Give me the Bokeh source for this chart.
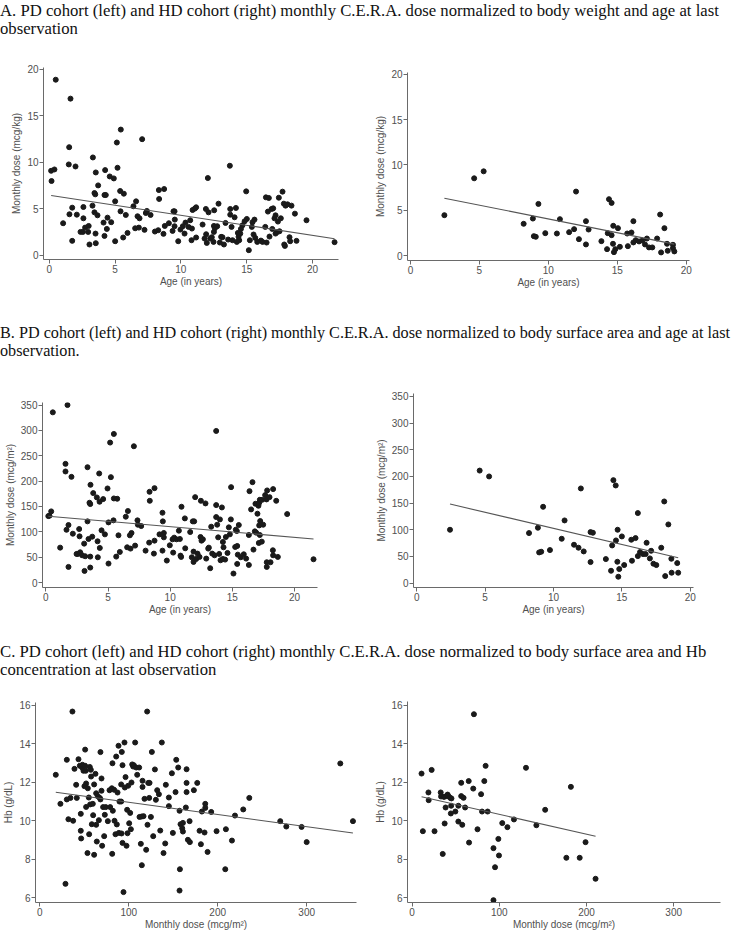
from bokeh.plotting import figure
from bokeh.models import Div, Range1d, FixedTicker, ColumnDataSource
from bokeh.layouts import column, row
from bokeh.embed import file_html
from bokeh.resources import INLINE

# ---------------- data ----------------
# A: dose normalized to body weight (mcg/kg) vs age
pd_age_a = [0.5, 0.18, 0.15, 0.4, 1.06, 1.62, 1.52, 1.49, 1.54, 1.75,
            1.75, 2.0, 2.1, 2.38, 2.56, 2.6, 2.6, 2.73, 2.96, 3.0,
            3.06, 3.32, 3.29, 3.44, 3.5, 3.54, 3.52, 3.54, 3.67, 3.72,
            3.44, 4.2, 4.3, 4.25, 4.13, 4.2, 4.38, 4.43, 4.6, 4.71,
            4.91, 5.01, 5.01, 5.14, 5.19, 5.44, 5.39, 5.42, 5.67, 5.62,
            5.82, 5.95, 6.4, 6.6, 6.53, 6.71, 6.86, 6.81, 7.06, 7.24,
            7.34, 7.42, 7.7, 8.03, 8.28, 8.35, 8.33, 8.73, 8.68, 8.78,
            9.09, 9.37, 9.44, 9.52, 9.54, 9.52, 9.8, 9.97, 10.15, 10.28,
            10.35, 10.58, 10.71, 10.84, 10.81, 10.89, 11.06, 11.16, 11.16, 11.65,
            11.8, 11.9, 11.92, 11.97, 12.05, 12.1, 12.23, 12.35, 12.48, 12.51,
            12.58, 12.51, 12.76, 12.53, 12.86, 12.96, 13.06, 13.27, 13.16, 13.39,
            13.59, 13.72, 13.75, 13.75, 13.85, 13.92, 14.08, 14.18, 14.25, 14.33,
            14.38, 14.43, 14.51, 14.56, 14.68, 14.84, 14.96, 15.01, 15.16, 15.24,
            15.39, 15.44, 15.52, 15.59, 15.65, 15.8, 16.08, 16.2, 16.41, 16.46,
            16.51, 16.61, 16.68, 16.73, 16.89, 16.94, 17.01, 17.11, 17.19, 17.19,
            17.29, 17.37, 17.44, 17.49, 17.59, 17.72, 17.82, 17.85, 17.9, 17.95,
            18.1, 18.25, 18.3, 18.4, 18.66, 18.78, 19.54, 21.67]
pd_dose_kg = [18.86, 7.99, 9.09, 9.23, 3.46, 16.83, 11.62, 9.77, 4.42, 5.13,
              1.57, 9.55, 4.38, 2.53, 2.53, 3.99, 5.2, 2.99, 2.53, 3.17,
              1.18, 10.52, 5.35, 6.7, 6.56, 8.91, 2.35, 1.32, 4.31, 7.52,
              4.63, 6.49, 6.49, 9.16, 3.53, 2.1, 2.85, 4.06, 8.48, 3.57,
              8.27, 5.81, 1.53, 12.12, 9.41, 13.51, 6.92, 4.74, 6.63, 1.93,
              4.35, 2.42, 5.28, 5.81, 2.92, 4.21, 3.99, 2.99, 12.48, 2.75,
              4.56, 4.78, 4.35, 2.57, 2.71, 6.06, 7.02, 7.13, 2.32, 3.17,
              3.46, 2.64, 4.74, 4.74, 3.85, 3.14, 1.53, 2.78, 3.14, 2.35,
              3.53, 3.07, 3.78, 2.89, 1.64, 4.88, 5.03, 5.17, 1.93, 3.32,
              1.82, 4.99, 2.28, 1.35, 8.31, 4.63, 1.82, 1.96, 1.46, 3.17,
              2.92, 2.53, 3.14, 4.85, 5.56, 1.39, 2.0, 1.18, 1.96, 3.49,
              1.71, 9.63, 4.99, 4.38, 3.07, 1.64, 4.1, 5.1, 1.46, 2.42,
              2.0, 1.64, 2.35, 2.85, 3.24, 3.67, 6.88, 3.92, 0.57, 1.64,
              3.07, 3.57, 2.25, 3.85, 1.89, 1.46, 1.6, 1.46, 3.07, 6.24,
              1.39, 4.71, 6.17, 2.03, 4.99, 2.85, 5.06, 3.99, 4.31, 2.35,
              2.5, 3.64, 6.2, 2.6, 3.99, 6.85, 5.56, 1.18, 1.03, 5.35,
              5.49, 1.96, 1.53, 5.35, 4.49, 1.57, 3.78, 1.43]
hd_age_a = [2.46, 4.62, 5.31, 8.21, 8.88, 8.95, 9.09, 9.28, 9.78, 10.62,
            10.84, 11.51, 11.87, 12.01, 12.22, 12.73, 12.73, 12.92, 13.85, 14.26,
            14.31, 14.4, 14.59, 14.59, 14.71, 14.69, 14.76, 14.86, 15.05, 15.19,
            15.72, 15.77, 16.03, 16.17, 16.17, 16.34, 16.58, 16.82, 17.01, 17.15,
            17.3, 17.54, 17.89, 18.11, 18.18, 18.42, 18.61, 18.66, 19.04, 19.04,
            19.14]
hd_dose_kg = [4.47, 8.53, 9.3, 3.52, 4.1, 2.16, 2.09, 5.71, 2.49, 2.45,
              4.03, 2.6, 2.93, 7.07, 1.83, 3.81, 1.25, 2.89, 1.61, 0.73,
              2.49, 6.23, 5.82, 2.27, 3.3, 1.32, 0.4, 0.73, 3.04, 0.99,
              2.45, 1.06, 2.56, 3.81, 1.47, 1.72, 1.58, 1.68, 1.25, 1.9,
              0.92, 0.92, 1.9, 4.54, 0.37, 3.04, 1.32, 0.55, 1.21, 0.84,
              0.48]

# B: dose normalized to body surface area (mcg/m2) vs age
pd_age_b = [0.2, 0.29, 0.43, 0.56, 1.15, 1.58, 1.58, 1.66, 1.74, 1.82,
            1.82, 2.06, 2.17, 2.47, 2.57, 2.68, 2.71, 2.76, 2.92, 3.08,
            3.11, 3.16, 3.35, 3.35, 3.43, 3.51, 3.57, 3.59, 3.57, 3.57,
            3.73, 3.81, 4.1, 4.16, 4.18, 4.29, 4.32, 4.34, 4.48, 4.61,
            4.75, 4.96, 5.04, 5.04, 5.17, 5.23, 5.44, 5.47, 5.47, 5.66,
            5.74, 5.84, 5.95, 6.43, 6.6, 6.54, 6.76, 6.81, 6.89, 7.08,
            7.18, 7.37, 7.4, 7.67, 8.02, 8.31, 8.34, 8.36, 8.74, 8.69,
            8.74, 9.14, 9.38, 9.41, 9.38, 9.49, 9.49, 9.73, 9.97, 10.19,
            10.24, 10.32, 10.51, 10.7, 10.78, 10.83, 10.91, 10.88, 11.18, 11.21,
            11.61, 11.74, 11.82, 11.93, 11.88, 11.88, 12.01, 12.09, 12.2, 12.36,
            12.44, 12.47, 12.52, 12.63, 12.84, 12.9, 13.06, 13.11, 13.22, 13.3,
            13.38, 13.57, 13.7, 13.7, 13.7, 13.78, 13.86, 13.94, 14.0, 14.05,
            14.16, 14.24, 14.24, 14.29, 14.42, 14.48, 14.61, 14.72, 14.8, 14.9,
            14.88, 15.09, 15.23, 15.28, 15.36, 15.39, 15.44, 15.52, 15.39, 15.68,
            15.92, 16.11, 16.33, 16.33, 16.38, 16.51, 16.62, 16.7, 16.81, 16.86,
            16.92, 17.02, 17.1, 17.13, 17.16, 17.16, 17.21, 17.21, 17.24, 17.37,
            17.4, 17.48, 17.64, 17.75, 17.8, 17.77, 17.77, 17.99, 18.07, 18.26,
            18.28, 18.28, 18.66, 18.53, 19.41, 21.53]
pd_dose_m2 = [131.0, 131.7, 140.3, 335.6, 68.8, 234, 219, 104, 350, 113.4,
              30.8, 208.4, 96.3, 56.4, 56.4, 105.5, 91.1, 59.6, 53.7, 76.7,
              22.9, 51.8, 227.4, 120.6, 85.9, 157.3, 154.7, 192.7, 51.1, 29.5,
              90.4, 176.3, 167.8, 81.3, 49.8, 215, 159.3, 68.2, 102.9, 164.5,
              95, 185.5, 118.6, 37.4, 276, 207.8, 122.6, 293, 165.8, 51.1,
              165.2, 93.1, 60.3, 129.8, 140.9, 69.5, 93.1, 66.9, 97.7, 268.7,
              72.8, 122.6, 114, 111.4, 62.9, 78.7, 178.9, 161.2, 186.1, 57,
              82.6, 95, 137.6, 120.6, 62.9, 97.7, 89.1, 43.3, 73.4, 85.2,
              59, 88.5, 85.2, 102.2, 85.9, 53.1, 149.4, 50.5, 126.5, 67.5,
              99.6, 49.8, 120.6, 120.6, 61, 40.6, 168.4, 46.5, 57, 50.5,
              89.8, 161.2, 82.6, 85.2, 156, 47.2, 66.9, 68.8, 28.2, 110.1,
              57, 53.7, 298.9, 152.7, 129.1, 114, 89.1, 56.4, 124.5, 43.9,
              148.1, 80, 46.5, 69.5, 45.2, 89.8, 58.3, 108.8, 95, 188.1,
              124.5, 17.7, 70.1, 104.2, 101.6, 72.1, 55, 113.4, 36.7, 49.8,
              55.7, 47.2, 93.7, 34.7, 180.2, 144.2, 197.9, 64.9, 100.9, 155.3,
              98.3, 135.7, 151.4, 78, 157.3, 112.7, 163.2, 93.7, 121.3, 80.6,
              163.2, 114, 172.4, 163.9, 181.6, 40, 30.8, 168.4, 40, 63.6,
              184.2, 53.7, 50.5, 161.2, 135, 45.9]
hd_age_b = [2.43, 4.6, 5.29, 8.21, 8.86, 8.95, 9.1, 9.24, 9.74, 10.6,
            10.81, 11.5, 11.83, 12.0, 12.21, 12.71, 12.88, 12.71, 13.83, 14.21,
            14.29, 14.38, 14.55, 14.57, 14.69, 14.67, 14.81, 14.74, 15.0, 15.17,
            15.69, 15.74, 16.0, 16.17, 16.17, 16.33, 16.55, 16.74, 16.81, 17.05,
            17.14, 17.31, 17.52, 17.88, 18.1, 18.17, 18.4, 18.62, 18.64, 19.05,
            19.12]
hd_dose_m2 = [100, 211, 200, 93.8, 103.8, 57.5, 58.8, 143.1, 61.9, 83.1,
              117.5, 71.9, 66.3, 177.5, 59.4, 95.6, 94.4, 39.4, 45, 23.1,
              70.6, 193.1, 183.1, 80, 100, 40, 26.3, 11.9, 87.5, 33.8,
              81.3, 41.9, 84.4, 131.3, 50.6, 58.1, 54.4, 54.4, 75.6, 46.3,
              60.6, 36.3, 33.8, 66.3, 153.1, 13.1, 110, 45.6, 19.4, 37.5,
              19.4]

# C: Hb vs dose normalized to body surface area
pd_dose_c = [18, 23.2, 28.9, 30.4, 30.4, 32.2, 34.5, 36.7, 37.5, 39,
             40.9, 41.6, 43.5, 45, 46.1, 46.1, 46.5, 47.6, 48, 49.1,
             50.2, 51, 51, 51.7, 52.1, 52.1, 53.6, 54, 55.1, 55.5,
             56.2, 56.6, 57.4, 57.7, 58.5, 59.6, 60, 61.1, 61.1, 62.6,
             63.4, 63.4, 64.1, 65.2, 66.4, 67.5, 68.2, 68.2, 69.4, 69.4,
             70.1, 71.2, 72.4, 73.1, 74.2, 76.5, 78.4, 79.1, 81, 81.4,
             81.7, 82.1, 83.6, 84, 85.1, 85.9, 86.6, 87.4, 88.5, 88.9,
             89.6, 91.5, 91.5, 91.9, 92.2, 93, 93, 94.1, 95.2, 95.6,
             96.4, 97.5, 98.2, 98.6, 99.4, 100.5, 101.6, 102.4, 103.1, 103.9,
             105, 105.7, 107.2, 108.4, 109.5, 111.7, 112.1, 113.6, 114.4, 114.7,
             115.5, 115.5, 116.6, 117.7, 119.6, 120.7, 121.1, 121.9, 123, 123.4,
             124.9, 126, 127.5, 129.4, 130.5, 132, 133.9, 135.4, 137.2, 139.1,
             141, 141.7, 145.1, 145.1, 148.5, 149.6, 152.6, 153.4, 155.6, 157.1,
             157.5, 157.1, 158.2, 160.1, 160.9, 160.9, 164.2, 165, 165, 165,
             166.5, 168.4, 168.7, 173.2, 177, 179.6, 181.1, 182.2, 185.2, 186,
             186, 188.6, 192.7, 198.7, 208.5, 209.2, 216, 219.4, 228.7, 235.5,
             270.3, 277.1, 294.3, 300, 337.8, 352]
pd_hb = [12.38, 10.87, 6.71, 13.16, 11.1, 10.07, 11.18, 15.67, 9.99, 12.69,
         11.86, 11.18, 13.19, 12.85, 10.35, 9.47, 9.07, 12.76, 12.9, 12.59,
         11.79, 13.69, 12.85, 12.59, 11.93, 10.71, 8.31, 11.68, 11.2, 9.29,
         12.79, 10.84, 12.64, 12.29, 9.81, 10.87, 10.28, 8.22, 11.88, 12.43,
         11.42, 9.78, 8.91, 11.27, 10.02, 11.18, 13.56, 11.1, 12.19, 11.55,
         8.69, 10.7, 9.19, 10.3, 10.7, 9.97, 11.58, 10.7, 11.68, 8.27,
         12.98, 10.51, 11.6, 9.99, 9.29, 13.33, 9.8, 11.46, 13.89, 9.36,
         10.99, 10.99, 11.88, 9.33, 13.57, 12.88, 8.84, 6.28, 14.06, 11.72,
         12.26, 8.69, 10.56, 9.34, 11.81, 9.86, 10.4, 9.55, 11.98, 12.92,
         12.81, 12.88, 14.06, 12.76, 12.38, 12.76, 10.19, 8.79, 10.21, 7.68,
         11.75, 12.07, 10.23, 11.13, 8.48, 15.67, 9.78, 11.96, 11.18, 11.96,
         10.19, 13.57, 9.19, 12.66, 11.08, 11.58, 11.37, 9.48, 14.06, 8.31,
         8.81, 11.86, 11.2, 10.75, 12.46, 9.36, 11.48, 13.16, 12.76, 10.51,
         7.47, 6.36, 9.81, 9.6, 9.88, 9.43, 10.68, 12.67, 11.96, 11.48,
         9.0, 9.97, 8.88, 11.58, 11.96, 9.47, 8.77, 10.47, 9.38, 10.87,
         10.66, 8.37, 10.45, 9.45, 7.47, 9.55, 8.96, 10.26, 10.58, 11.18,
         9.97, 9.69, 9.67, 8.88, 12.97, 9.97]
hd_dose_c = [10.8, 12.3, 18.7, 19, 22.4, 25.7, 32.8, 33.2, 35.1, 36.6,
             37.3, 38.4, 39.2, 40.7, 41.4, 43.7, 44.4, 45.1, 44.8, 49.6,
             53, 53, 56.3, 56.3, 57.5, 59, 60.8, 64.9, 65.3, 70.1,
             70.9, 75, 79.1, 80.2, 82.8, 84.3, 86.6, 93.3, 93.3, 95.1,
             98.9, 99.6, 103.4, 109.3, 116.8, 130.6, 142.5, 152.6, 176.9, 182.1,
             192.2, 198.9, 210.4]
hd_hb = [12.45, 9.46, 11.47, 11.07, 12.64, 9.46, 11.47, 11.26, 8.28, 11.24,
         9.86, 10.69, 11.28, 11.36, 11.29, 11.19, 10.38, 11.16, 10.78, 10.48,
         10.78, 9.96, 11.97, 11.28, 9.79, 11.19, 10.69, 12.06, 8.87, 11.67,
         15.53, 9.56, 11.38, 10.48, 12.06, 12.85, 10.48, 8.58, 5.88, 7.59,
         9.06, 8.2, 9.88, 9.67, 10.07, 12.75, 9.77, 10.57, 8.08, 11.76,
         8.08, 8.89, 6.99]

# linear fits (intercept, slope)
fit_a_pd = (6.47, -0.2155)
fit_a_hd = (7.085, -0.303)
fit_b_pd = (131.0, -2.095)
fit_b_hd = (162.9, -6.03)
fit_c_pd = (11.59, -0.00636)
fit_c_hd = (11.36, -0.01026)

age_ticks = [0, 5, 10, 15, 20]
kg_ticks = [0, 5, 10, 15, 20]
m2_ticks = [0, 50, 100, 150, 200, 250, 300, 350]
dose_ticks = [0, 100, 200, 300]
hb_ticks = [6, 8, 10, 12, 14, 16]

title_a = ("A. PD cohort (left) and HD cohort (right) monthly C.E.R.A. dose normalized to body weight and age at last",
           "observation")
title_b = ("B. PD cohort (left) and HD cohort (right) monthly C.E.R.A. dose normalized to body surface area and age at last",
           "observation.")
title_c = ("C. PD cohort (left) and HD cohort (right) monthly C.E.R.A. dose normalized to body surface area and Hb",
           "concentration at last observation")

# ---------------- styling helpers ----------------
AX = "#6a6a6a"
LBL = "#505050"
DOT = "#1a1a1a"
FONT = "Liberation Sans"


def panel(xs, ys, fit, xr, yr, xticks, yticks, xlabel, ylabel,
          w, h, bl, br, bt, bb):
    p = figure(width=w, height=h,
               min_border_left=bl, min_border_right=br,
               min_border_top=bt, min_border_bottom=bb,
               x_range=Range1d(*xr), y_range=Range1d(*yr),
               output_backend="svg", toolbar_location=None,
               background_fill_color="white", border_fill_color="white")
    p.frame_align = False
    p.outline_line_color = None
    p.grid.visible = False
    for ax, ticks, lab in ((p.xaxis[0], xticks, xlabel), (p.yaxis[0], yticks, ylabel)):
        ax.ticker = FixedTicker(ticks=ticks)
        ax.axis_label = lab
        ax.axis_line_color = AX
        ax.major_tick_line_color = AX
        ax.minor_tick_line_color = None
        ax.major_tick_in = 0
        ax.major_tick_out = 4
        ax.major_label_text_font = FONT
        ax.major_label_text_font_size = "10px"
        ax.major_label_text_color = LBL
        ax.major_label_standoff = 1
        ax.axis_label_text_font = FONT
        ax.axis_label_text_font_size = "10px"
        ax.axis_label_text_font_style = "normal"
        ax.axis_label_text_color = LBL
        ax.axis_label_standoff = 0
    p.yaxis[0].major_label_orientation = "horizontal"
    p.yaxis[0].axis_label_standoff = 2
    src = ColumnDataSource(dict(x=xs, y=ys))
    p.scatter("x", "y", source=src, size=5, color=DOT, line_color=DOT)
    x0, x1 = min(xs), max(xs)
    b0, b1 = fit
    p.line([x0, x1], [b0 + b1 * x0, b0 + b1 * x1], line_color="#555555", line_width=1.1)
    return p


def caption(lines, h, pad, size):
    html = ("<div style=\"font-family:'Liberation Serif'; font-size:%spx; line-height:18px; "
            "color:#111; white-space:nowrap; padding-top:%dpx;\">%s<br>%s</div>"
            % (size, pad, lines[0], lines[1]))
    return Div(text=html, width=748, height=h, margin=(0, 0, 0, 0))


fa1 = panel(pd_age_a, pd_dose_kg, fit_a_pd, (-0.43, 21.97), (-0.43, 20.17), age_ticks, kg_ticks,
            "Age (in years)", "Monthly dose (mcg/kg)", 372, 246, 43, 34, 21, 33)
fa2 = panel(hd_age_a, hd_dose_kg, fit_a_hd, (-0.215, 20.24), (-0.52, 20.18), age_ticks, kg_ticks,
            "Age (in years)", "Monthly dose (mcg/kg)", 367, 246, 32, 50, 26, 32)
fb1 = panel(pd_age_b, pd_dose_m2, fit_b_pd, (-0.27, 21.85), (-9.8, 355), age_ticks, m2_ticks,
            "Age (in years)", "Monthly dose (mcg/m\u00b2)", 372, 248, 42, 55, 30, 33)
fb2 = panel(hd_age_b, hd_dose_m2, fit_b_hd, (-0.24, 20.24), (-8.3, 355.6), age_ticks, m2_ticks,
            "Age (in years)", "Monthly dose (mcg/m\u00b2)", 367, 248, 34, 46, 21, 33)
fc1 = panel(pd_dose_c, pd_hb, fit_c_pd, (-4.8, 356), (5.74, 16.14), dose_ticks, hb_ticks,
            "Monthly dose (mcg/m\u00b2)", "Hb (g/dL)", 372, 253, 35, 16, 21, 32)
fc2 = panel(hd_dose_c, hd_hb, fit_c_hd, (-5.3, 353.7), (5.76, 16.19), dose_ticks, hb_ticks,
            "Monthly dose (mcg/m\u00b2)", "Hb (g/dL)", 365, 253, 27, 17, 20, 32)

layout = column(
    caption(title_a, 46, 2, 16.7),
    row(fa1, fa2),
    caption(title_b, 80, 32, 16.2),
    row(fb1, fb2),
    caption(title_c, 61, 23, 16.7),
    row(fc1, fc2),
)

open("out.html", "w").write(file_html(layout, INLINE))
